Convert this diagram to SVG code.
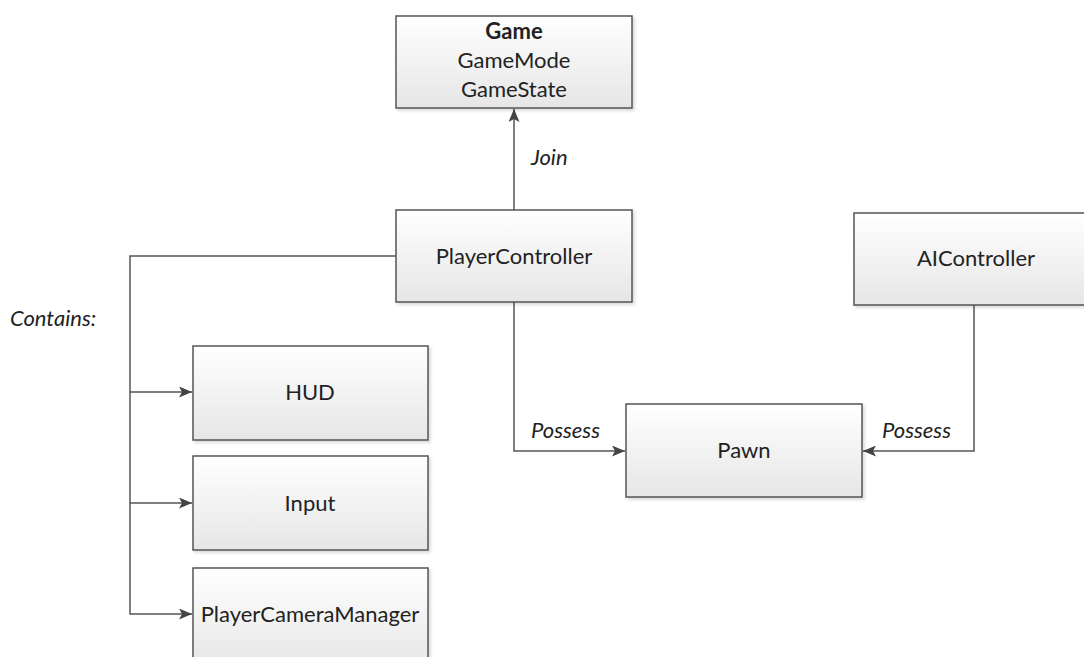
<svg xmlns="http://www.w3.org/2000/svg" width="1084" height="657" viewBox="0 0 1084 657">
<style>
.box{fill:url(#g);stroke:#555;stroke-width:1.5}
.t{font-family:Lato,"Liberation Sans",sans-serif;font-size:22px;fill:#222;text-anchor:middle}
.lbl{font-family:Lato,"Liberation Sans",sans-serif;font-size:22px;fill:#222;font-style:italic}
.c{fill:none;stroke:#555;stroke-width:1.5}
</style>
<defs>
<linearGradient id="g" x1="0" y1="0" x2="0" y2="1">
<stop offset="0" stop-color="#ffffff"/>
<stop offset="1" stop-color="#e6e6e6"/>
</linearGradient>
<filter id="sh" x="-5%" y="-5%" width="115%" height="120%">
<feDropShadow dx="2" dy="2" stdDeviation="1.5" flood-color="#000" flood-opacity="0.15"/>
</filter>
<marker id="ah" markerWidth="13" markerHeight="11" refX="13" refY="5.5" orient="auto" markerUnits="userSpaceOnUse">
<path d="M0,0 L13,5.5 L0,11 L3,5.5 z" fill="#444"/>
</marker>
</defs>
<rect width="1084" height="657" fill="#fff"/>
<g id="connectors">
<line class="c" x1="514" y1="210" x2="514" y2="109" marker-end="url(#ah)"/>
<polyline class="c" points="396,256 130,256 130,614 192,614" marker-end="url(#ah)"/>
<line class="c" x1="130" y1="392" x2="192" y2="392" marker-end="url(#ah)"/>
<line class="c" x1="130" y1="503" x2="192" y2="503" marker-end="url(#ah)"/>
<polyline class="c" points="514,302 514,451 625,451" marker-end="url(#ah)"/>
<polyline class="c" points="974,305 974,451 863,451" marker-end="url(#ah)"/>
<text class="lbl" x="531" y="165">Join</text>
<text class="lbl" x="10" y="326">Contains:</text>
<text class="lbl" x="531" y="438">Possess</text>
<text class="lbl" x="882" y="438">Possess</text>
</g>
<g id="game">
<rect class="box" filter="url(#sh)" x="396" y="16" width="236" height="92"/>
<text class="t" x="514" y="39" font-weight="bold">Game</text>
<text class="t" x="514" y="68">GameMode</text>
<text class="t" x="514" y="97">GameState</text>
</g>
<g id="playercontroller">
<rect class="box" filter="url(#sh)" x="396" y="210" width="236" height="92"/>
<text class="t" x="514" y="264">PlayerController</text>
</g>
<g id="aicontroller">
<rect class="box" filter="url(#sh)" x="854" y="213" width="240" height="92"/>
<text class="t" x="976" y="266">AIController</text>
</g>
<g id="pawn">
<rect class="box" filter="url(#sh)" x="626" y="404" width="236" height="93"/>
<text class="t" x="744" y="458">Pawn</text>
</g>
<g id="hud">
<rect class="box" filter="url(#sh)" x="193" y="346" width="235" height="94"/>
<text class="t" x="310" y="400">HUD</text>
</g>
<g id="input">
<rect class="box" filter="url(#sh)" x="193" y="456" width="235" height="94"/>
<text class="t" x="310" y="511">Input</text>
</g>
<g id="pcm">
<rect class="box" filter="url(#sh)" x="193" y="568" width="235" height="100"/>
<text class="t" x="310" y="622">PlayerCameraManager</text>
</g>
</svg>
